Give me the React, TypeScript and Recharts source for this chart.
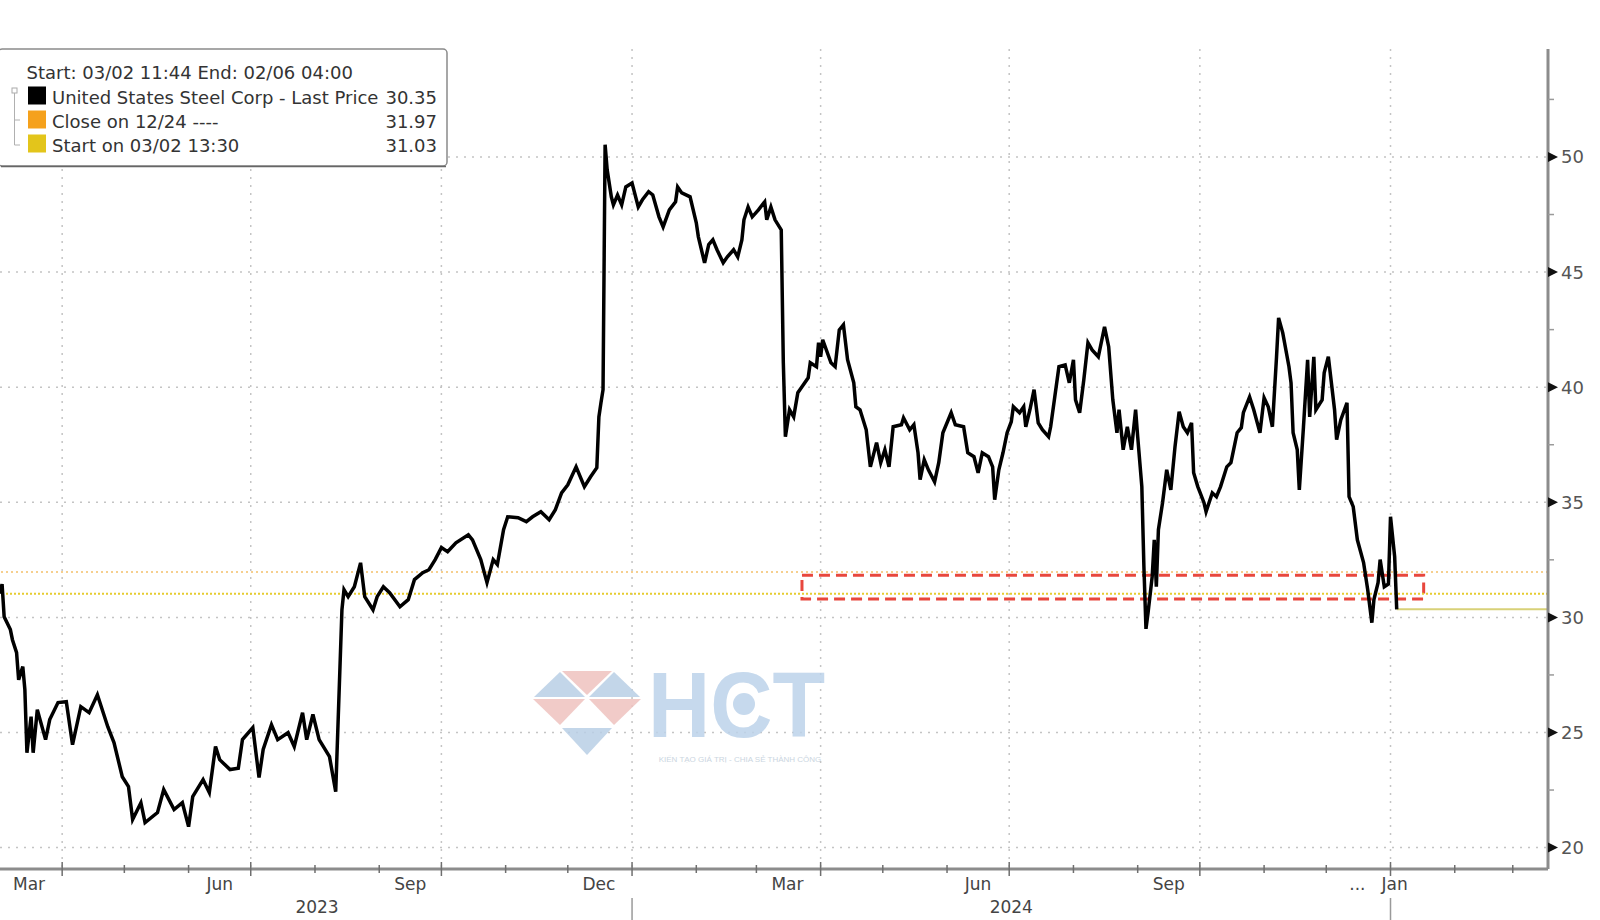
import React from "react"
import {
  CartesianGrid,
  ComposedChart,
  Line,
  ReferenceArea,
  ReferenceLine,
  XAxis,
  YAxis,
} from "recharts"

// --- data -------------------------------------------------------------

const priceDates = [
  "2023-03-02", "2023-03-03", "2023-03-04", "2023-03-07", "2023-03-08", "2023-03-10", "2023-03-11", "2023-03-13",
  "2023-03-14", "2023-03-15", "2023-03-17", "2023-03-18", "2023-03-20", "2023-03-24", "2023-03-26", "2023-03-30",
  "2023-04-03", "2023-04-06", "2023-04-10", "2023-04-14", "2023-04-18", "2023-04-23", "2023-04-26", "2023-04-30",
  "2023-05-03", "2023-05-05", "2023-05-09", "2023-05-11", "2023-05-17", "2023-05-20", "2023-05-25", "2023-05-29",
  "2023-06-01", "2023-06-03", "2023-06-08", "2023-06-11", "2023-06-14", "2023-06-16", "2023-06-21", "2023-06-25",
  "2023-06-27", "2023-07-02", "2023-07-05", "2023-07-07", "2023-07-11", "2023-07-14", "2023-07-19", "2023-07-22",
  "2023-07-26", "2023-07-28", "2023-07-31", "2023-08-03", "2023-08-08", "2023-08-11", "2023-08-14", "2023-08-15",
  "2023-08-17", "2023-08-20", "2023-08-23", "2023-08-25", "2023-08-29", "2023-08-31", "2023-09-03", "2023-09-06",
  "2023-09-11", "2023-09-15", "2023-09-18", "2023-09-22", "2023-09-25", "2023-09-28", "2023-10-01", "2023-10-04",
  "2023-10-08", "2023-10-14", "2023-10-16", "2023-10-20", "2023-10-23", "2023-10-26", "2023-10-28", "2023-10-31",
  "2023-11-02", "2023-11-07", "2023-11-11", "2023-11-14", "2023-11-18", "2023-11-22", "2023-11-25", "2023-11-28",
  "2023-12-01", "2023-12-05", "2023-12-09", "2023-12-12", "2023-12-15", "2023-12-16", "2023-12-17", "2023-12-18",
  "2023-12-19", "2023-12-20", "2023-12-22", "2023-12-23", "2023-12-25", "2023-12-27", "2023-12-29", "2024-01-01",
  "2024-01-04", "2024-01-06", "2024-01-09", "2024-01-11", "2024-01-14", "2024-01-16", "2024-01-19", "2024-01-22",
  "2024-01-23", "2024-01-25", "2024-01-29", "2024-02-01", "2024-02-02", "2024-02-05", "2024-02-07", "2024-02-09",
  "2024-02-11", "2024-02-14", "2024-02-16", "2024-02-19", "2024-02-21", "2024-02-23", "2024-02-24", "2024-02-26",
  "2024-02-28", "2024-03-02", "2024-03-05", "2024-03-06", "2024-03-08", "2024-03-10", "2024-03-13", "2024-03-14",
  "2024-03-15", "2024-03-17", "2024-03-19", "2024-03-21", "2024-03-23", "2024-03-26", "2024-03-27", "2024-03-30",
  "2024-03-31", "2024-04-01", "2024-04-02", "2024-04-06", "2024-04-08", "2024-04-10", "2024-04-12", "2024-04-14",
  "2024-04-17", "2024-04-18", "2024-04-20", "2024-04-23", "2024-04-25", "2024-04-28", "2024-04-30", "2024-05-02",
  "2024-05-04", "2024-05-06", "2024-05-10", "2024-05-11", "2024-05-14", "2024-05-16", "2024-05-18", "2024-05-19",
  "2024-05-21", "2024-05-23", "2024-05-26", "2024-05-28", "2024-05-30", "2024-06-03", "2024-06-05", "2024-06-09",
  "2024-06-11", "2024-06-14", "2024-06-16", "2024-06-18", "2024-06-21", "2024-06-23", "2024-06-24", "2024-06-26",
  "2024-06-28", "2024-06-30", "2024-07-02", "2024-07-03", "2024-07-06", "2024-07-08", "2024-07-09", "2024-07-11",
  "2024-07-13", "2024-07-15", "2024-07-17", "2024-07-20", "2024-07-21", "2024-07-23", "2024-07-25", "2024-07-28",
  "2024-07-30", "2024-08-01", "2024-08-02", "2024-08-04", "2024-08-06", "2024-08-08", "2024-08-10", "2024-08-13",
  "2024-08-16", "2024-08-18", "2024-08-20", "2024-08-22", "2024-08-23", "2024-08-25", "2024-08-27", "2024-08-29",
  "2024-08-31", "2024-09-01", "2024-09-03", "2024-09-04", "2024-09-05", "2024-09-06", "2024-09-08", "2024-09-09",
  "2024-09-10", "2024-09-11", "2024-09-13", "2024-09-15", "2024-09-17", "2024-09-19", "2024-09-21", "2024-09-23",
  "2024-09-25", "2024-09-27", "2024-09-28", "2024-09-30", "2024-10-03", "2024-10-04", "2024-10-07", "2024-10-09",
  "2024-10-11", "2024-10-14", "2024-10-16", "2024-10-19", "2024-10-21", "2024-10-22", "2024-10-25", "2024-10-27",
  "2024-10-30", "2024-11-01", "2024-11-03", "2024-11-05", "2024-11-07", "2024-11-08", "2024-11-10", "2024-11-13",
  "2024-11-14", "2024-11-15", "2024-11-17", "2024-11-18", "2024-11-20", "2024-11-22", "2024-11-23", "2024-11-25",
  "2024-11-26", "2024-11-29", "2024-11-30", "2024-12-02", "2024-12-05", "2024-12-06", "2024-12-08", "2024-12-11",
  "2024-12-12", "2024-12-14", "2024-12-16", "2024-12-19", "2024-12-21", "2024-12-23", "2024-12-24", "2024-12-26",
  "2024-12-27", "2024-12-29", "2024-12-31", "2025-01-01", "2025-01-03", "2025-01-04",
]

const prices = [
  31.03, 31.45, 30.03, 29.47, 29.03, 28.47, 27.29, 27.86,
  26.86, 24.12, 25.69, 24.12, 25.99, 24.69, 25.56, 26.3,
  26.34, 24.47, 26.12, 25.86, 26.64, 25.25, 24.56, 23.08,
  22.65, 21.22, 21.95, 21.09, 21.52, 22.52, 21.65, 21.95,
  20.91, 22.21, 22.95, 22.39, 24.39, 23.82, 23.39, 23.45,
  24.69, 25.21, 23.04, 24.26, 25.34, 24.69, 24.99, 24.39,
  25.86, 24.69, 25.78, 24.69, 23.95, 22.43, 30.33, 31.2,
  30.9, 31.33, 32.37, 30.9, 30.33, 30.9, 31.33, 31.07,
  30.46, 30.77, 31.64, 31.94, 32.07, 32.51, 33.03, 32.85,
  33.24, 33.59, 33.37, 32.51, 31.51, 32.51, 32.3, 33.81,
  34.37, 34.33, 34.16, 34.37, 34.59, 34.24, 34.68, 35.41,
  35.76, 36.54, 35.68, 36.11, 36.5, 38.71, 39.32, 39.89,
  50.53, 49.44, 48.27, 47.92, 48.35, 47.92, 48.7, 48.87,
  47.83, 48.14, 48.49, 48.35, 47.4, 46.96, 47.7, 48.05,
  48.7, 48.44, 48.27, 47.14, 46.53, 45.4, 46.19, 46.4,
  45.97, 45.4, 45.66, 45.97, 45.66, 46.4, 47.27, 47.83,
  47.4, 47.7, 48.05, 47.27, 47.83, 47.27, 46.83, 41.06,
  37.85, 39.02, 38.71, 39.76, 40.02, 40.41, 41.06, 40.89,
  41.93, 41.32, 42.06, 41.06, 40.89, 42.49, 42.71, 41.19,
  40.19, 39.15, 39.02, 38.15, 36.54, 37.59, 36.72, 37.28,
  36.54, 38.28, 38.37, 38.67, 38.15, 38.37, 37.15, 35.98,
  36.85, 36.41, 35.89, 36.72, 38.02, 38.89, 38.37, 38.28,
  37.15, 36.98, 36.28, 37.15, 36.98, 36.54, 35.11, 36.41,
  37.15, 38.02, 38.5, 39.15, 38.89, 39.15, 38.28, 39.02,
  39.89, 38.45, 38.15, 37.85, 38.28, 39.58, 40.89, 40.97,
  40.19, 41.19, 39.45, 38.89, 40.32, 41.93, 41.62, 41.32,
  42.62, 41.76, 39.45, 38.02, 39.02, 37.28, 38.28, 37.28,
  39.02, 37.85, 35.68, 32.2, 29.5, 30.2, 31.77, 33.37,
  31.33, 33.81, 34.98, 36.41, 35.54, 37.41, 38.93, 38.28,
  38.02, 38.45, 36.28, 35.68, 34.98, 34.59, 35.41, 35.24,
  35.68, 36.54, 36.72, 38.02, 38.24, 38.89, 39.58, 39.02,
  38.02, 39.54, 39.15, 38.28, 41.32, 43.01, 42.36, 40.89,
  40.19, 38.02, 37.28, 35.54, 38.28, 41.19, 38.71, 41.32,
  39.02, 39.45, 40.62, 41.32, 39.02, 37.72, 38.58, 39.32,
  35.24, 34.81, 33.37, 32.38, 31.2, 29.77, 30.77, 31.51,
  32.51, 31.33, 31.45, 34.37, 32.64, 30.35,
]

const LAST_PRICE = 30.35
const CLOSE_1224 = 31.97
const START_PRICE = 31.03

const highlightDates = ["2024-03-23", "2025-01-17"]
const highlightRange = [30.8, 31.83]

const yMajorTicks = [20, 25, 30, 35, 40, 45, 50]
const yMinorTicks = [22.5, 27.5, 32.5, 37.5, 42.5, 47.5, 52.5]

const monthLabelDates = [
  "2023-03-16", "2023-06-16", "2023-09-16", "2023-12-16",
  "2024-03-16", "2024-06-16", "2024-09-16", "2024-12-16", "2025-01-03",
]
const monthLabelTexts = ["Mar", "Jun", "Sep", "Dec", "Mar", "Jun", "Sep", "...", "Jan"]
const yearLabelDates = ["2023-08-02", "2024-07-02"]
const yearLabelTexts = ["2023", "2024"]

const legendHeader = "Start: 03/02 11:44 End: 02/06 04:00"
const legendNames = ["United States Steel Corp - Last Price", "Close on 12/24 ----", "Start on 03/02 13:30"]
const legendValues = ["30.35", "31.97", "31.03"]
const legendColors = ["#000000", "#f5a11c", "#e3c51b"]

// --- helpers ----------------------------------------------------------

const START = Date.UTC(2023, 2, 2)
const DAY = 86400000
const toDay = (iso: string) => Math.round((Date.parse(iso) - START) / DAY)

const X_MAX = toDay("2025-03-18")
const Y_MIN = 19.07
const Y_MAX = 54.69

const rows = priceDates.map((d, i) => ({ t: toDay(d), price: prices[i] }))
const lastDay = rows[rows.length - 1].t

// month boundaries Apr 2023 .. Mar 2025
const monthStarts = Array.from({ length: 24 }, (_, i) => ({
  day: Math.round((Date.UTC(2023, 3 + i, 1) - START) / DAY),
  quarter: (3 + i) % 3 === 0,
  year: (3 + i) % 12 === 0,
}))
const quarterDays = monthStarts.filter((m) => m.quarter).map((m) => m.day)

type XInfo = { kind: "month"; quarter: boolean; year: boolean } | { kind: "label" | "year"; text: string }
const xInfo = new Map<number, XInfo>()
monthStarts.forEach((m) => xInfo.set(m.day, { kind: "month", quarter: m.quarter, year: m.year }))
monthLabelDates.forEach((d, i) => xInfo.set(toDay(d), { kind: "label", text: monthLabelTexts[i] }))
yearLabelDates.forEach((d, i) => xInfo.set(toDay(d), { kind: "year", text: yearLabelTexts[i] }))
const xTicks = Array.from(xInfo.keys()).sort((a, b) => a - b)

const FONT = "'DejaVu Sans', Verdana, sans-serif"
const GRID = "#c4c4c4"

function XTick(props: any) {
  const { x, y, payload } = props
  const info = xInfo.get(payload.value)
  if (!info) return <g />
  if (info.kind === "month") {
    const h = info.quarter ? 7 : 4
    return (
      <g>
        <line x1={x} x2={x} y1={y - h} y2={y + h} stroke="#6f6f6f" strokeWidth={1.5} />
        {info.year && <line x1={x} x2={x} y1={y + 29} y2={y + 51} stroke="#9a9a9a" strokeWidth={1.5} />}
      </g>
    )
  }
  return (
    <text
      x={x}
      y={y + (info.kind === "year" ? 38 : 15)}
      textAnchor="middle"
      dominantBaseline="central"
      fontSize={17}
      fontFamily={FONT}
      fill="#444"
    >
      {info.text}
    </text>
  )
}

function YTick(props: any) {
  const { x, y, payload } = props
  const v = payload.value
  if (!yMajorTicks.includes(v)) {
    return <line x1={x} x2={x + 6} y1={y} y2={y} stroke="#9a9a9a" strokeWidth={1.5} />
  }
  return (
    <g>
      <polygon points={`${x},${y - 5} ${x + 10},${y} ${x},${y + 5}`} fill="#111" />
      <text x={x + 13} y={y} dominantBaseline="central" fontSize={18} fontFamily={FONT} fill="#555">
        {v}
      </text>
    </g>
  )
}

function LegendBox() {
  const rowY = [103.5, 127.5, 151.5]
  return (
    <g fontFamily={FONT} fontSize={18} fill="#333">
      <rect x={-2} y={49} width={449} height={117} rx={4} fill="#fff" stroke="#8a8a8a" strokeWidth={1.5} />
      <line x1={1} x2={446} y1={166.5} y2={166.5} stroke="#666" strokeWidth={1.5} />
      <text x={26.5} y={79}>{legendHeader}</text>
      <rect x={12} y={88} width={5} height={5} fill="none" stroke="#aaa" strokeWidth={1} />
      <line x1={14.5} x2={14.5} y1={93} y2={145} stroke="#b0b0b0" strokeWidth={1} />
      <line x1={14.5} x2={20} y1={120} y2={120} stroke="#b0b0b0" strokeWidth={1} />
      <line x1={14.5} x2={20} y1={145} y2={145} stroke="#b0b0b0" strokeWidth={1} />
      {legendNames.map((name, i) => (
        <g key={name}>
          <rect x={28} y={rowY[i] - 17} width={18} height={18} fill={legendColors[i]} />
          <text x={52} y={rowY[i]}>{name}</text>
          <text x={437} y={rowY[i]} textAnchor="end">{legendValues[i]}</text>
        </g>
      ))}
    </g>
  )
}

function Watermark() {
  const blue = "#b9cfe6"
  const pink = "#efc3bf"
  return (
    <g opacity={0.85}>
      <polygon points="560,672 534,697 585,697" fill={blue} />
      <polygon points="562,671 612,671 587,695" fill={pink} />
      <polygon points="614,672 640,697 589,697" fill={blue} />
      <polygon points="533,699 585,699 560,725" fill={pink} />
      <polygon points="589,699 641,699 614,725" fill={pink} />
      <polygon points="562,728 612,728 587,755" fill={blue} />
      <text
        x={648}
        y={737}
        fontSize={92}
        fontWeight={700}
        fontFamily="'Liberation Sans', Arial, sans-serif"
        fill="#bdd3ea"
        textLength={177}
        lengthAdjust="spacingAndGlyphs"
      >
        HCT
      </text>
      <circle cx={744} cy={704} r={11} fill="#bdd3ea" />
      <text x={740} y={762} fontSize={8} fontFamily="'Liberation Sans', Arial, sans-serif" fill="#c3cfdb" textAnchor="middle">
        KIẾN TẠO GIÁ TRỊ - CHIA SẺ THÀNH CÔNG
      </text>
    </g>
  )
}

export default function App() {
  return (
    <div style={{ position: "absolute", left: 0, top: 0, width: 1600, height: 920, background: "#fff" }}>
      <ComposedChart width={1600} height={920} data={rows} margin={{ top: 49, right: 0, bottom: 0, left: 0 }}>
        <CartesianGrid
          horizontalValues={yMajorTicks}
          verticalValues={quarterDays}
          stroke={GRID}
          strokeDasharray="2 6"
          strokeWidth={1.5}
        />
        <XAxis
          dataKey="t"
          type="number"
          domain={[0, X_MAX]}
          allowDataOverflow
          ticks={xTicks}
          interval={0}
          tick={XTick}
          tickLine={false}
          tickSize={0}
          tickMargin={0}
          height={51}
          axisLine={{ stroke: "#8c8c8c", strokeWidth: 3 }}
        />
        <YAxis
          orientation="right"
          type="number"
          domain={[Y_MIN, Y_MAX]}
          allowDataOverflow
          ticks={[...yMajorTicks, ...yMinorTicks].sort((a, b) => a - b)}
          interval={0}
          tick={YTick}
          tickLine={false}
          tickSize={0}
          tickMargin={0}
          width={52}
          axisLine={{ stroke: "#8c8c8c", strokeWidth: 3 }}
        />
        <ReferenceLine y={CLOSE_1224} stroke="#f4c06a" strokeDasharray="2 3" strokeWidth={1.5} />
        <ReferenceLine y={START_PRICE} stroke="#e6cc30" strokeDasharray="2 2" strokeWidth={2} />
        <ReferenceLine
          segment={[
            { x: lastDay, y: LAST_PRICE },
            { x: X_MAX, y: LAST_PRICE },
          ]}
          stroke="#d8d178"
          strokeWidth={2}
        />
        <ReferenceArea
          x1={toDay(highlightDates[0])}
          x2={toDay(highlightDates[1])}
          y1={highlightRange[0]}
          y2={highlightRange[1]}
          fill="none"
          stroke="#e8473d"
          strokeWidth={3}
          strokeDasharray="11 6"
          ifOverflow="visible"
        />
        <Line
          dataKey="price"
          type="linear"
          stroke="#000"
          strokeWidth={3.5}
          dot={false}
          isAnimationActive={false}
        />
      </ComposedChart>
      <svg
        width={1600}
        height={920}
        style={{ position: "absolute", left: 0, top: 0, pointerEvents: "none" }}
      >
        <Watermark />
        <LegendBox />
      </svg>
    </div>
  )
}
